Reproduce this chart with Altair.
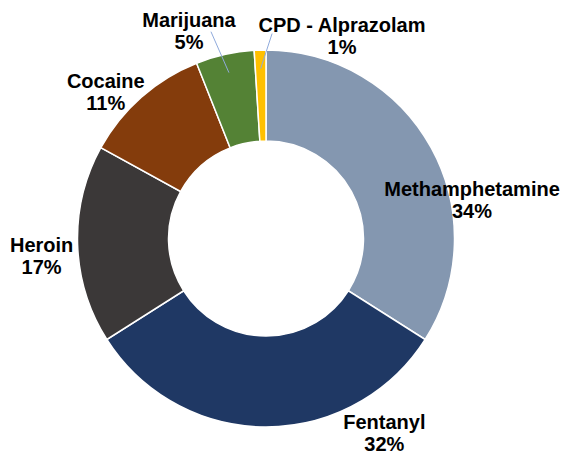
import altair as alt
import pandas as pd

# ---- data ----
categories = ["Methamphetamine", "Fentanyl", "Heroin", "Cocaine", "Marijuana", "CPD - Alprazolam"]
values = [34, 32, 17, 11, 5, 1]

# ---- styling / label placement (kept apart from the data) ----
colors = ["#8497B0", "#1F3864", "#3B3838", "#843C0C", "#548235", "#FFC000"]
label_shift_deg = [17.9, -31.5, -2.5, -5.9, -7.7, 22.3]   # angular nudge from slice middle
label_radius = [209.8, 226.5, 225, 218, 222, 217]
has_leader = [False, False, False, False, True, True]
leader_shift_deg = [0, 0, 0, 0, -2.3, 3.5]
leader_outer_r = [0, 0, 0, 0, 214, 205]
leader_inner_r = 170

CX, CY = 258, 230.5   # donut centre inside the view
R_IN, R_OUT = 97.5, 188.5

df = pd.DataFrame({
    "category": categories,
    "value": values,
    "idx": list(range(len(categories))),
    "shift": label_shift_deg,
    "lab_r": label_radius,
    "leader": has_leader,
    "lshift": leader_shift_deg,
    "lr": leader_outer_r,
})

color_scale = alt.Scale(domain=categories, range=colors)

base = alt.Chart(df)

arcs = base.mark_arc(innerRadius=R_IN, outerRadius=R_OUT, stroke="white", strokeWidth=1.5).encode(
    theta=alt.Theta("value:Q", stack=True),
    order=alt.Order("idx:Q"),
    color=alt.Color("category:N", scale=color_scale, legend=None),
    x=alt.value(CX),
    y=alt.value(CY),
)

polar = base.transform_window(
    cum="sum(value)", sort=[alt.SortField("idx")], frame=[None, 0]
).transform_joinaggregate(
    total="sum(value)"
).transform_calculate(
    mid="(datum.cum - datum.value/2) / datum.total * 2 * PI"
)

labels = polar.transform_calculate(
    lab_theta="datum.mid + datum.shift * PI / 180",
    label="datum.category + '|' + datum.value + '%'",
).mark_text(
    font="Liberation Sans", fontWeight="bold", fontSize=20, lineBreak="|",
    lineHeight=22, align="center", baseline="middle", color="black", dy=-9,
).encode(
    theta=alt.Theta("lab_theta:Q", scale=None, stack=False),
    radius=alt.Radius("lab_r:Q", scale=None),
    text="label:N",
    x=alt.value(CX),
    y=alt.value(CY),
)

leaders = polar.transform_filter("datum.leader").transform_calculate(
    a_out="datum.mid + datum.lshift * PI / 180",
).transform_calculate(
    x1=f"{CX} + {leader_inner_r} * sin(datum.mid)",
    y1=f"{CY} - {leader_inner_r} * cos(datum.mid)",
    x2=f"{CX} + datum.lr * sin(datum.a_out)",
    y2=f"{CY} - datum.lr * cos(datum.a_out)",
).mark_rule(color="#8FAADC", strokeWidth=1).encode(
    x=alt.X("x1:Q", scale=None),
    y=alt.Y("y1:Q", scale=None),
    x2="x2:Q",
    y2="y2:Q",
)

chart = alt.layer(arcs, leaders, labels).properties(
    width=555, height=448, padding=0, autosize="none"
).configure_view(stroke=None)

chart.save("out.html", embed_options={"renderer": "svg", "actions": False})
